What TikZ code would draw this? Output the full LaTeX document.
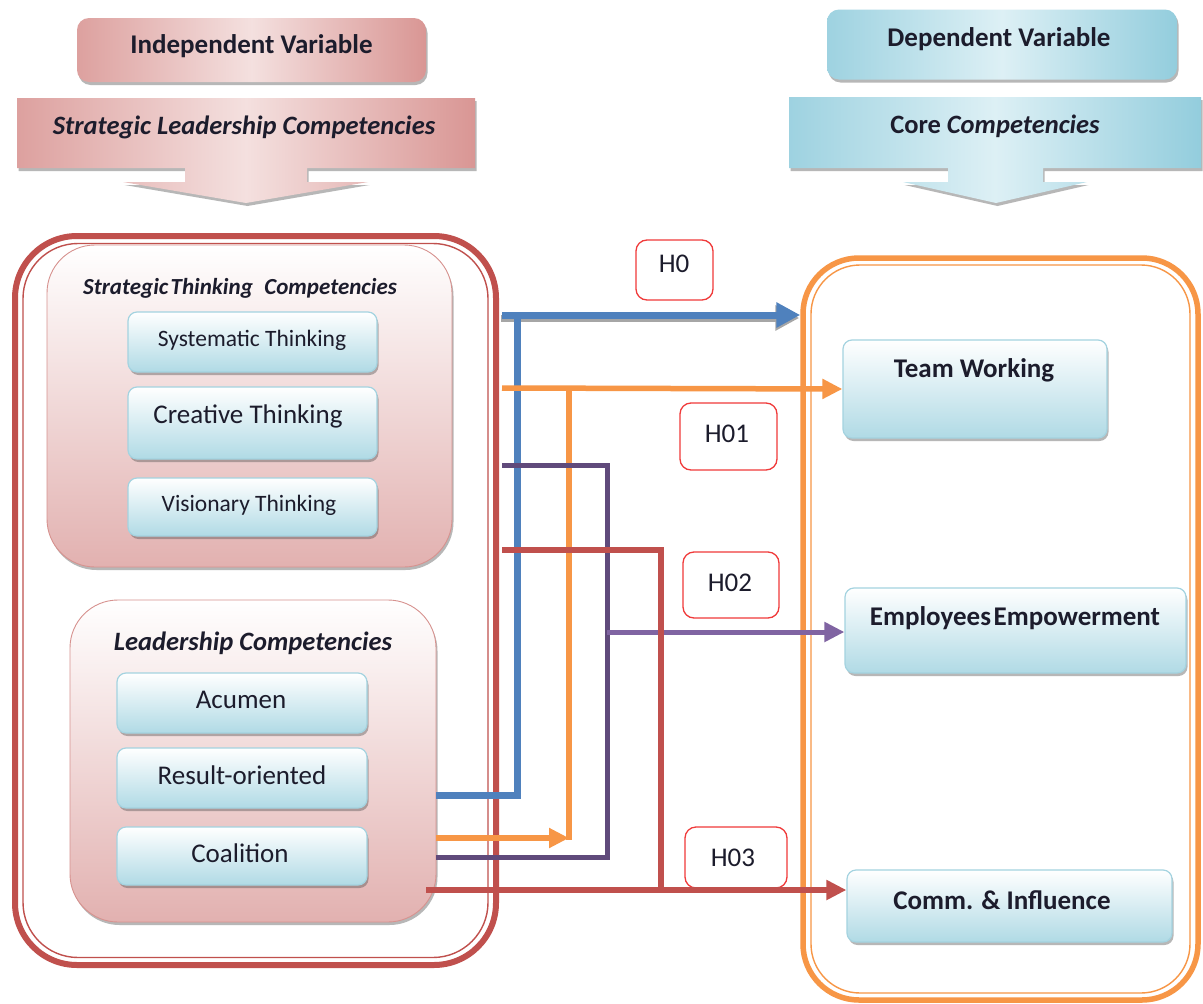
\documentclass[tikz,border=0pt]{standalone}
\usepackage{fontspec}
\setmainfont{Carlito}
\usetikzlibrary{shadows,arrows.meta,calc}
\definecolor{cred}{HTML}{C0504D}
\definecolor{corange}{HTML}{F79646}
\definecolor{cblue}{HTML}{4F81BD}
\definecolor{cpurple}{HTML}{8064A2}
\definecolor{cpurpled}{HTML}{604A7B}
\definecolor{pinkD}{HTML}{D99694}
\definecolor{pinkM}{HTML}{E2B1B0}
\definecolor{pinkL}{HTML}{F4E0DF}
\definecolor{pinkB}{HTML}{D7928F}
\definecolor{aquaD}{HTML}{93CDDD}
\definecolor{aquaM}{HTML}{B0DAE5}
\definecolor{aquaL}{HTML}{DDF0F5}
\definecolor{aquaB}{HTML}{A4D3E0}
\definecolor{hred}{HTML}{F03A3A}
\definecolor{txt}{HTML}{1C1C2C}
\tikzset{
  shadowed/.style={drop shadow={shadow xshift=1.5pt,shadow yshift=-3pt,opacity=0.4,fill=black!70}},
  aquabox/.style={draw=aquaB,line width=1.2pt,rounded corners=9pt,top color=white,bottom color=aquaM,shadowed,inner sep=0pt},
  pinkgroup/.style={draw=pinkB,line width=0.9pt,rounded corners=48pt,top color=white,bottom color=pinkM,shadowed,inner sep=0pt},
  headpink/.style={rounded corners=12pt,left color=pinkD!90,right color=pinkD,middle color=pinkL,shadowed,inner sep=0pt},
  headaqua/.style={rounded corners=12pt,left color=aquaD!90,right color=aquaD,middle color=aquaL,shadowed,inner sep=0pt},
  arrowpink/.style={left color=pinkD!90,right color=pinkD,middle color=pinkL,shadowed},
  arrowaqua/.style={left color=aquaD!90,right color=aquaD,middle color=aquaL,shadowed},
  hbox/.style={draw=hred,line width=1.3pt,rounded corners=11pt,fill=white,inner sep=0pt},
  tr/.style={font=\fontsize{#1}{#1}\selectfont,text=txt,inner sep=0pt},
  tb/.style={font=\fontsize{#1}{#1}\selectfont\bfseries,text=txt,inner sep=0pt},
  tbi/.style={font=\fontsize{#1}{#1}\selectfont\bfseries\itshape,text=txt,inner sep=0pt},
  bluel/.style={draw=cblue,line width=7pt},
  orl/.style={draw=corange,line width=5.5pt},
  purl/.style={draw=cpurple,line width=5pt},
  purd/.style={draw=cpurpled,line width=5pt},
  redl/.style={draw=cred,line width=5.5pt},
  tip/.style={-{Triangle[length=20pt,width=19pt]}},
  bigtip/.style={-{Triangle[length=24pt,width=24pt]}},
}
\begin{document}
\begin{tikzpicture}[x=1pt,y=-1pt]
\useasboundingbox[fill=white] (0,0) rectangle (1203,1004);

% headers
\node[headpink,minimum width=349pt,minimum height=64pt] (hdrL) at (251.5,50) {};
\node[tb=27] (hdrLt) at (251.5,46) {Independent Variable};
\path[arrowpink] (17,98) -- (475,98) -- (475,168) -- (307,168) -- (307,182) -- (368,182) -- (246,203) -- (123,182) -- (185,182) -- (185,168) -- (17,168) -- cycle;
\node[tbi=26.5] (slc) at (244,127) {Strategic Leadership Competencies};

\node[headaqua,minimum width=350pt,minimum height=70pt] (hdrR) at (1002,44.5) {};
\node[tb=27] (hdrRt) at (999,39) {Dependent Variable};
\path[arrowaqua] (789,97) -- (1201,97) -- (1201,168) -- (1043,168) -- (1043,182) -- (1087,182) -- (996,203) -- (903,182) -- (948,182) -- (948,168) -- (789,168) -- cycle;
\node[tb=26.5] (core) at (995,126) {Core \textit{Competencies}};

% outer frames
\node[draw=cred,line width=6pt,rounded corners=62pt,minimum width=481pt,minimum height=729pt,inner sep=0pt] (outerL) at (255.5,600.5) {};
\node[draw=cred,line width=1.4pt,rounded corners=55pt,minimum width=465pt,minimum height=714pt,inner sep=0pt] (innerL) at (255.5,600.5) {};
\node[draw=corange,line width=5.5pt,rounded corners=56pt,minimum width=395pt,minimum height=742pt,inner sep=0pt] (outerR) at (1000.5,629) {};
\node[draw=corange,line width=1.4pt,rounded corners=49pt,minimum width=379pt,minimum height=728pt,inner sep=0pt] (innerR) at (1000.5,629) {};

% strategic thinking group
\node[pinkgroup,minimum width=405pt,minimum height=322pt] (stc) at (249.5,406) {};
\node[tbi=23] (stct) at (240,288) {Strategic\hspace{0.1em}Thinking\hspace{0.5em}Competencies};
\node[aquabox,minimum width=249pt,minimum height=60pt] (sys) at (252.5,342) {};
\node[tr=23.5] (syst) at (252,340) {Systematic Thinking};
\node[aquabox,minimum width=249pt,minimum height=72pt] (cre) at (252.5,423) {};
\node[tr=27] (cret) at (248,416) {Creative Thinking};
\node[aquabox,minimum width=249pt,minimum height=58pt] (vis) at (252.5,507) {};
\node[tr=23.5] (vist) at (249,505) {Visionary Thinking};

% leadership group
\node[pinkgroup,minimum width=366pt,minimum height=322pt] (lc) at (253,761) {};
\node[tbi=26.5] (lct) at (253,643) {Leadership Competencies};
\node[aquabox,minimum width=250pt,minimum height=60pt] (acu) at (242,703) {};
\node[tr=27] (acut) at (241,700) {Acumen};
\node[aquabox,minimum width=250pt,minimum height=60pt] (res) at (242,778) {};
\node[tr=27] (rest) at (242,775) {Result-oriented};
\node[aquabox,minimum width=250pt,minimum height=58pt] (coa) at (242,856) {};
\node[tr=27] (coat) at (240,853) {Coalition};

% dependent boxes
\node[aquabox,minimum width=264pt,minimum height=98pt] (tw) at (975,389) {};
\node[tb=27] (twt) at (974,370) {Team Working};
\node[aquabox,minimum width=341pt,minimum height=85pt] (emp) at (1015.5,630.5) {};
\node[tb=27] (empt) at (1015,618) {Employees\hspace{0.1em}Empowerment};
\node[aquabox,minimum width=325pt,minimum height=72pt] (com) at (1009.5,906) {};
\node[tb=27] (comt) at (1002,900) {Comm. \& Influence};

% hypothesis labels
\node[hbox,minimum width=77pt,minimum height=60pt] (h0) at (674.5,270) {};
\node[tr=27] (h0t) at (674,264) {H0};
\node[hbox,minimum width=97pt,minimum height=67pt] (h01) at (728.5,436.5) {};
\node[tr=27] (h01t) at (727,434) {H01};
\node[hbox,minimum width=96pt,minimum height=66pt] (h02) at (731,585) {};
\node[tr=27] (h02t) at (730,583) {H02};
\node[hbox,minimum width=102pt,minimum height=61pt] (h03) at (736,857.5) {};
\node[tr=27] (h03t) at (733,858) {H03};

% junction coordinates
\coordinate (b0) at (517,315);
\coordinate (b1) at (517,795);
\coordinate (o0) at (569,388);
\coordinate (o1) at (569,838);
\coordinate (p0) at (607,465);
\coordinate (p1) at (607,857);
\coordinate (p2) at (607,632);
\coordinate (r0) at (661,550);
\coordinate (r1) at (661,890);

% blue
\draw[draw=black!35,line width=7pt,bigtip] ([xshift=2pt,yshift=-3pt]outerL.east |- b0) -- ([xshift=-1pt,yshift=-3pt]outerR.west |- b0);
\draw[bluel] (lc.east |- b1) -- (b1) -- (b0);
\draw[bluel,bigtip] ([xshift=3pt]outerL.east |- b0) -- (outerR.west |- b0);
% orange
\draw[orl,tip] (lc.east |- o1) -- (o1);
\draw[orl] ([yshift=-2pt]o1) -- (o0);
\draw[orl,tip] ([xshift=3pt]outerL.east |- o0) -- (tw.west);
% purple
\draw[purd] (lc.east |- p1) -- (p1) -- (p0) -- ([xshift=3pt]outerL.east |- p0);
\draw[purl,tip] (p2) -- (emp.west |- p2);
% red
\draw[redl] ([xshift=3pt]outerL.east |- r0) -- (r0) -- (r1);
\draw[redl,tip] ([xshift=-10pt]lc.east |- r1) -- (com.west |- r1);
\end{tikzpicture}
\end{document}
